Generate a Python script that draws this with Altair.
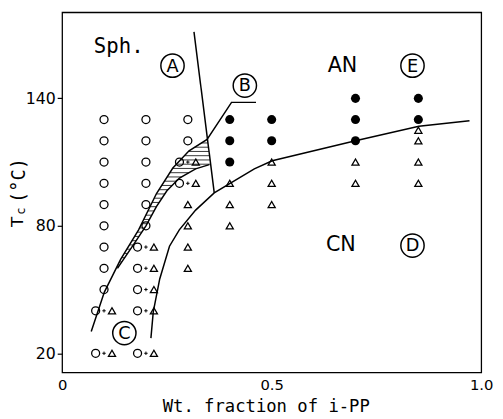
import altair as alt
import pandas as pd
import numpy as np

# ---------------- data ----------------
# open circles (spherulites)
open_x = [0.1] * 9 + [0.2] * 6 + [0.3] * 2
open_t = [130, 120, 110, 100, 90, 80, 70, 60, 50,
          130, 120, 110, 100, 90, 80,
          130, 120]
# filled circles (AN)
filled_x = [0.4, 0.4, 0.4, 0.5, 0.5, 0.7, 0.7, 0.7, 0.85, 0.85]
filled_t = [130, 120, 110, 130, 120, 140, 130, 120, 140, 130]
# open triangles (CN)
tri_x = [0.3] * 4 + [0.4] * 3 + [0.5] * 3 + [0.7] * 2 + [0.85] * 4
tri_t = [90, 80, 70, 60, 100, 90, 80, 110, 100, 90, 110, 100, 125, 120, 110, 100]
# mixed "O+triangle"
mix_x = [0.1, 0.1, 0.2, 0.2, 0.2, 0.2, 0.2, 0.3, 0.3]
mix_t = [40, 20, 70, 60, 50, 40, 20, 110, 100]

# boundary curves
steep_x = [0.3146, 0.363]
steep_t = [171.3, 95.5]

upper_x = [0.0695, 0.1008, 0.1396, 0.1825, 0.2252, 0.2642, 0.3029, 0.3459, 0.4042, 0.4626]
upper_t = [30.2, 48.8, 64.2, 78.1, 95.2, 107.2, 115.3, 120.7, 138.1, 138.1]

hlow_x = [0.132, 0.17, 0.2, 0.225, 0.25, 0.28, 0.3186, 0.3512]
hlow_t = [60.0, 71.0, 80.0, 89.0, 96.5, 102.5, 106.8, 108.8]

cn_x = [0.2119, 0.2175, 0.2329, 0.2562, 0.2796, 0.3186, 0.3629, 0.4586, 0.5013, 0.70, 0.8513, 0.972]
cn_t = [27.1, 39.5, 55.0, 70.4, 78.1, 87.4, 95.5, 106.8, 110.6, 120.0, 126.9, 129.5]

# annotations
ring_txt = ["A", "B", "C", "D", "E"]
ring_x = [0.2634, 0.436, 0.1485, 0.836, 0.836]
ring_t = [155.4, 146.0, 29.5, 70.7, 155.4]

lab_txt = ["AN", "CN"]
lab_x = [0.669, 0.665]
lab_t = [155.4, 70.7]

sph_txt = ["Sph."]
sph_x = [0.135]
sph_t = [164.3]

x_ticks = [0, 0.5, 1.0]
y_ticks = [20, 80, 140]

# ---------------- hatch lines (derived from the boundaries) ----------------
def steep_at(t):
    return steep_x[0] + (steep_t[0] - t) / (steep_t[0] - steep_t[1]) * (steep_x[1] - steep_x[0])

h_rows = []
for t in np.arange(61.0, 121.0, 2.0):
    xl = float(np.interp(t, upper_t[:9], upper_x[:9]))
    if t <= hlow_t[-1]:
        xr = float(np.interp(t, hlow_t, hlow_x))
    else:
        xr = 9.0
    xr = min(xr, steep_at(t))
    if xr > xl:
        h_rows.append({"x": xl, "x2": xr, "t": float(t)})
df_hatch = pd.DataFrame(h_rows)

# ---------------- scales / axes ----------------
FONT = "DejaVu Sans"
MONO = "DejaVu Sans Mono"
W, H = 426, 366
xs = alt.Scale(domain=[0, 1.0], nice=False, zero=False)
ys = alt.Scale(domain=[11, 180.5], nice=False, zero=False)

x_axis = alt.Axis(values=x_ticks, labelExpr="datum.value == 0 ? '0' : format(datum.value, '.1f')",
                  ticks=False, domain=False, grid=False, labelFlush=False,
                  labelFont=FONT, labelFontSize=15, labelColor="black", labelPadding=5,
                  title="Wt. fraction of i-PP", titleFont=MONO, titleFontSize=17.5,
                  titleFontWeight="normal", titleColor="black",
                  titleX=207, titleY=40, titleAlign="center", titleBaseline="alphabetic")
y_axis = alt.Axis(values=y_ticks, ticks=True, tickSize=5, tickColor="black", tickWidth=1.2,
                  domain=False, grid=False, labelFlush=False,
                  labelFont=FONT, labelFontSize=16, labelColor="black", labelPadding=2,
                  title=None)


def X(f="x"):
    return alt.X(f"{f}:Q", scale=xs, axis=x_axis)


def Y(f="t"):
    return alt.Y(f"{f}:Q", scale=ys, axis=y_axis)


df_open = pd.DataFrame({"x": open_x, "t": open_t})
df_filled = pd.DataFrame({"x": filled_x, "t": filled_t})
df_tri = pd.DataFrame({"x": tri_x, "t": tri_t})
df_mix = pd.DataFrame({"x": mix_x, "t": mix_t})


def curve(xv, tv):
    return pd.DataFrame({"x": xv, "t": tv, "i": list(range(len(xv)))})


line_kw = dict(color="black", strokeWidth=1.5)
C_SIZE, T_SIZE, F_SIZE = 66, 52, 85

layers = []
layers.append(alt.Chart(df_hatch).mark_rule(color="black", strokeWidth=0.8).encode(
    x=X("x"), x2="x2:Q", y=Y("t")))
for cx, ct in [(steep_x, steep_t), (upper_x, upper_t), (hlow_x, hlow_t), (cn_x, cn_t)]:
    layers.append(alt.Chart(curve(cx, ct)).mark_line(**line_kw).encode(
        x=X(), y=Y(), order="i:Q"))

layers.append(alt.Chart(df_open).mark_point(shape="circle", filled=False, stroke="black",
                                            strokeWidth=1.3, size=C_SIZE, opacity=1).encode(x=X(), y=Y()))
layers.append(alt.Chart(df_filled).mark_point(shape="circle", filled=True, fill="black",
                                              size=F_SIZE, opacity=1).encode(x=X(), y=Y()))
layers.append(alt.Chart(df_tri).mark_point(shape="triangle-up", filled=False, stroke="black",
                                           strokeWidth=1.3, size=T_SIZE, opacity=1).encode(x=X(), y=Y()))
mix = alt.Chart(df_mix).transform_calculate(xc="datum.x - 0.02", xt="datum.x + 0.019")
layers.append(mix.mark_point(shape="circle", filled=False, stroke="black", strokeWidth=1.3,
                             size=C_SIZE, opacity=1).encode(x=X("xc"), y=Y()))
layers.append(mix.mark_point(shape="triangle-up", filled=False, stroke="black", strokeWidth=1.3,
                             size=T_SIZE, opacity=1).encode(x=X("xt"), y=Y()))
layers.append(mix.mark_point(shape="M-1,0L1,0M0,-1L0,1", filled=False, stroke="black",
                             strokeWidth=1.0, size=12, opacity=1).encode(x=X(), y=Y()))

df_ring = pd.DataFrame({"x": ring_x, "t": ring_t, "s": ring_txt})
layers.append(alt.Chart(df_ring).mark_point(shape="circle", filled=False, stroke="black",
                                            strokeWidth=1.5, size=560, opacity=1).encode(x=X(), y=Y()))
layers.append(alt.Chart(df_ring).mark_text(font=FONT, fontSize=18, color="black", align="center",
                                           baseline="middle", dy=1).encode(x=X(), y=Y(), text="s:N"))
df_lab = pd.DataFrame({"x": lab_x, "t": lab_t, "s": lab_txt})
layers.append(alt.Chart(df_lab).mark_text(font=FONT, fontSize=21, color="black", align="center",
                                          baseline="middle").encode(x=X(), y=Y(), text="s:N"))
df_sph = pd.DataFrame({"x": sph_x, "t": sph_t, "s": sph_txt})
layers.append(alt.Chart(df_sph).mark_text(font=MONO, fontSize=21, color="black", align="center",
                                          baseline="middle").encode(x=X(), y=Y(), text="s:N"))

# y-axis title: T with subscript c, then (°C), rotated
layers.append(alt.Chart(pd.DataFrame({"s": ["T"]})).mark_text(
    font=FONT, fontSize=17, angle=270, align="center", baseline="middle", color="black").encode(
    x=alt.value(-45), y=alt.value(213), text="s:N"))
layers.append(alt.Chart(pd.DataFrame({"s": ["c"]})).mark_text(
    font=FONT, fontSize=12, angle=270, align="center", baseline="middle", color="black").encode(
    x=alt.value(-42), y=alt.value(202), text="s:N"))
layers.append(alt.Chart(pd.DataFrame({"s": ["(°C)"]})).mark_text(
    font=MONO, fontSize=19, angle=270, align="center", baseline="middle", color="black").encode(
    x=alt.value(-44), y=alt.value(171), text="s:N"))

chart = alt.layer(*layers).properties(
    width=W, height=H,
    autosize=alt.AutoSizeParams(type="none"),
    padding={"left": 55, "top": 1, "right": 14, "bottom": 44},
    background="white",
).configure_view(stroke="black", strokeWidth=1.3)

chart.save("out.html", embed_options={"renderer": "svg", "actions": False})
